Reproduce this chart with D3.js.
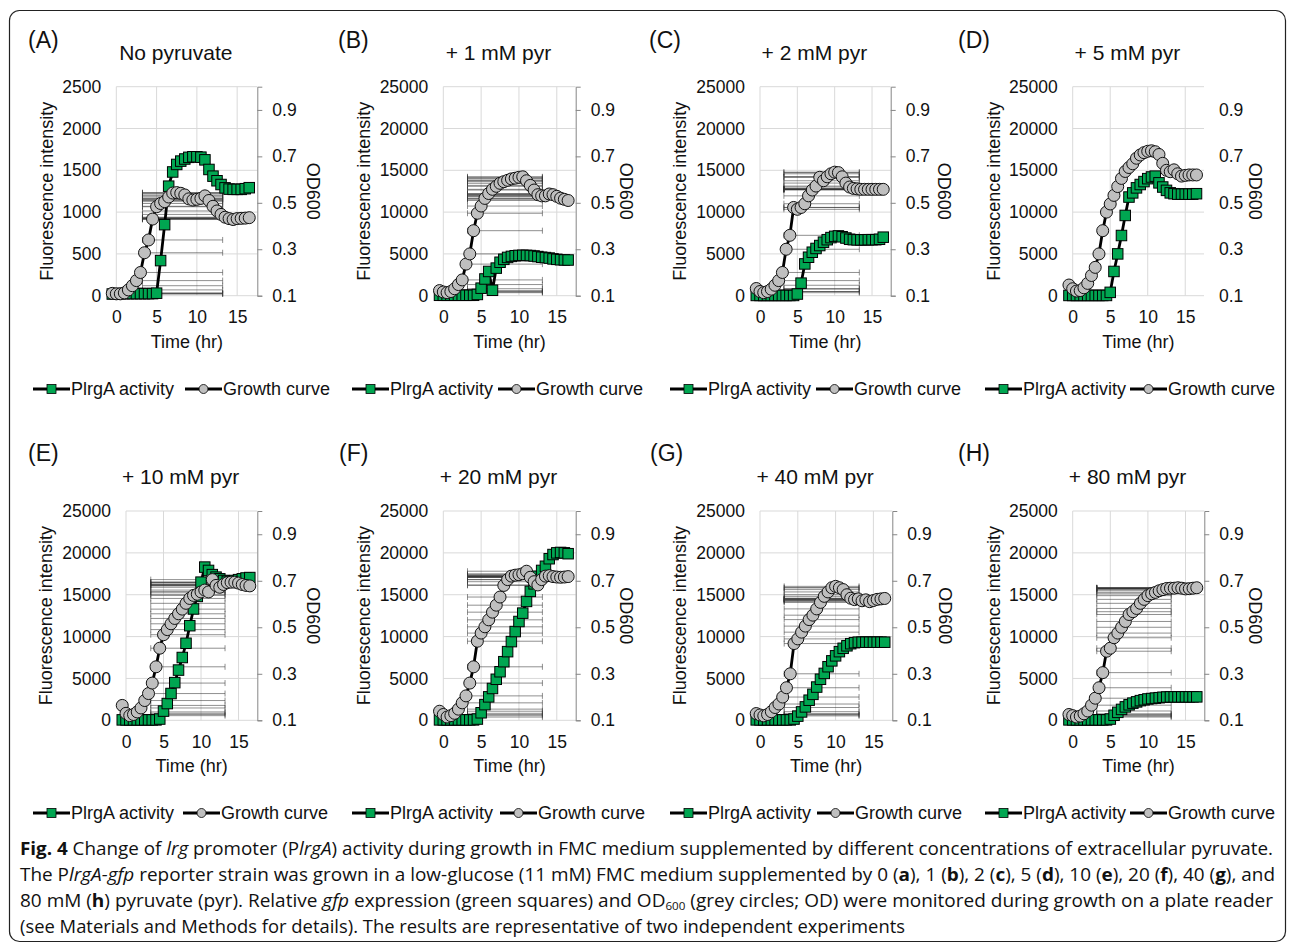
<!DOCTYPE html>
<html><head><meta charset="utf-8">
<script src="https://cdn.jsdelivr.net/npm/d3@7"></script>
<style>
body{margin:0;background:#fff}
svg{display:block}
text{font-family:"Liberation Sans",Arial,sans-serif;fill:#111}
</style>
</head><body><svg id="c" width="1293" height="947"></svg>
<script>
// ---------------- DATA ----------------
const time = [-0.5,0,0.5,1,1.5,2,2.5,3,3.5,4,4.5,5,5.5,6,6.5,7,7.5,8,8.5,9,9.5,10,10.5,11,11.5,12,12.5,13,13.5,14,14.5,15,15.5,16,16.5];
const panelLetters = ["(A)","(B)","(C)","(D)","(E)","(F)","(G)","(H)"];
const panelTitles = ["No pyruvate","+ 1 mM pyr","+ 2 mM pyr","+ 5 mM pyr","+ 10 mM pyr","+ 20 mM pyr","+ 40 mM pyr","+ 80 mM pyr"];
const fluoMax = [2500,25000,25000,25000,25000,25000,25000,25000];
const fluoStep = [500,5000,5000,5000,5000,5000,5000,5000];
const odTicks = [0.1,0.3,0.5,0.7,0.9];
const timeTicks = [0,5,10,15];
const seriesNames = ["PlrgA activity","Growth curve"];
const yTitle = "Fluorescence intensity", y2Title = "OD600", xTitle = "Time (hr)";

const fluoA = [20,25,25,25,25,25,25,25,25,25,25,30,420,850,1310,1480,1570,1610,1635,1655,1662,1662,1657,1625,1510,1430,1375,1330,1290,1275,1272,1272,1272,1280,1292];
const odA   = [0.110,0.108,0.108,0.112,0.125,0.143,0.165,0.200,0.285,0.340,0.430,0.483,0.497,0.505,0.525,0.542,0.544,0.541,0.534,0.517,0.512,0.515,0.519,0.530,0.510,0.485,0.465,0.450,0.438,0.432,0.428,0.432,0.433,0.434,0.436];
const fluoB = [50,50,50,50,50,50,50,50,50,50,150,900,2000,2900,650,3300,4000,4350,4580,4700,4780,4820,4830,4820,4800,4750,4680,4600,4560,4500,4400,4350,4300,4280,4270];
const odB   = [0.122,0.116,0.113,0.118,0.130,0.148,0.168,0.236,0.280,0.380,0.455,0.486,0.519,0.540,0.558,0.571,0.584,0.591,0.597,0.603,0.606,0.610,0.612,0.595,0.575,0.555,0.535,0.530,0.530,0.538,0.535,0.528,0.520,0.515,0.510];
const fluoC = [30,30,30,30,30,30,30,30,30,30,30,200,1500,3800,4600,5200,5650,6000,6400,6700,6950,7100,7150,7050,6900,6750,6700,6680,6680,6680,6700,6700,6700,6750,7000];
const odC   = [0.131,0.118,0.113,0.118,0.128,0.145,0.165,0.200,0.300,0.360,0.480,0.472,0.480,0.496,0.530,0.555,0.572,0.610,0.595,0.612,0.625,0.632,0.630,0.612,0.585,0.568,0.562,0.560,0.558,0.558,0.558,0.558,0.558,0.558,0.558];
const fluoD = [30,30,30,30,30,30,30,30,30,30,30,400,2900,5000,7200,9600,11800,12300,12900,13300,13650,14000,14200,14300,13500,13000,12600,12300,12200,12150,12150,12150,12150,12150,12200];
const odD   = [0.146,0.130,0.120,0.122,0.134,0.153,0.187,0.222,0.280,0.380,0.460,0.495,0.532,0.570,0.605,0.635,0.652,0.668,0.692,0.706,0.716,0.722,0.724,0.720,0.708,0.670,0.640,0.634,0.642,0.625,0.615,0.618,0.620,0.620,0.620];
const fluoE = [50,50,50,50,50,50,50,50,50,50,150,1100,2000,3200,4500,6000,7500,9200,11300,13300,14800,16500,18300,17900,17400,17100,16900,16700,16600,16600,16700,16800,16900,17000,17050];
const odE   = [0.164,0.130,0.120,0.125,0.136,0.153,0.185,0.215,0.260,0.330,0.410,0.468,0.490,0.515,0.538,0.558,0.578,0.603,0.624,0.637,0.642,0.652,0.660,0.652,0.705,0.680,0.672,0.684,0.692,0.694,0.694,0.690,0.684,0.680,0.678];
const fluoF = [50,50,50,50,50,50,50,50,50,50,150,900,1870,2800,3800,4900,5800,7000,8200,9400,10600,11800,12800,14200,15400,16300,17200,17900,18400,19300,19800,20000,20050,20000,19900];
const odF   = [0.139,0.125,0.114,0.120,0.130,0.148,0.175,0.205,0.260,0.330,0.440,0.475,0.502,0.532,0.565,0.595,0.630,0.680,0.705,0.720,0.724,0.726,0.730,0.741,0.715,0.696,0.682,0.705,0.720,0.722,0.718,0.716,0.715,0.716,0.718];
const fluoG = [50,50,50,50,50,50,50,50,50,50,150,500,1000,1600,2400,3100,3970,4900,5600,6400,7100,7700,8200,8600,8900,9150,9270,9330,9330,9330,9330,9330,9330,9330,9330];
const odG   = [0.129,0.123,0.119,0.125,0.137,0.155,0.170,0.200,0.240,0.300,0.430,0.450,0.479,0.505,0.533,0.552,0.579,0.607,0.633,0.652,0.670,0.676,0.670,0.662,0.640,0.625,0.619,0.622,0.614,0.618,0.610,0.615,0.620,0.622,0.624];
const fluoH = [50,50,50,50,50,50,50,50,50,50,50,150,600,950,1300,1600,1850,2050,2200,2350,2450,2550,2600,2650,2700,2750,2780,2800,2800,2800,2800,2800,2800,2800,2800];
const odH   = [0.125,0.120,0.114,0.118,0.128,0.140,0.165,0.195,0.240,0.305,0.397,0.410,0.455,0.475,0.500,0.525,0.555,0.567,0.581,0.603,0.620,0.636,0.644,0.650,0.657,0.662,0.667,0.668,0.668,0.670,0.668,0.665,0.666,0.668,0.670];

// horizontal (SD) error-bar extent on time axis, per panel (null = none)
const errLow  = [3.25,3.2,3.2,null,3.3,3.2,3.2,3.2];
const errHigh = [13.2,13.1,13.3,null,13.2,13.1,13.1,13.1];
const showRightAxisLine = [true,true,true,false,true,true,true,true];

const fluoSeries = [fluoA,fluoB,fluoC,fluoD,fluoE,fluoF,fluoG,fluoH];
const odSeries = [odA,odB,odC,odD,odE,odF,odG,odH];

// ---------------- LAYOUT ----------------
const svg = d3.select("#c");
svg.append("rect").attr("x",9.5).attr("y",10.5).attr("width",1276).attr("height",931)
  .attr("rx",10).attr("fill","none").attr("stroke","#222").attr("stroke-width",1.2);

const plotLeft  = [116.3,443.3,760,1072.7,126,443.3,760,1072.7];
const plotRight = [257.3,575.7,890.7,1204,257.3,575.7,892.3,1204.3];
const rowTop = [86.7,511], rowBottom = [295.7,720.3];
const letterX = [28,338,649,958,28,339,650,958];
const letterY = [48,461];
const titleY = [60,484];
const legendY = [389,813];
const legendX1 = [33,352,670,985,33,352,670,985];
const legendX2 = [185,498,816,1130,183,500,817,1130];
const yTitleOff = [70,80,80,79,80,80,80,79];
const y2TitleOff = [56,51,54,51,56,51,53,51];

const GREEN = "#00a651", GREY = "#bfbfbf", GRID = "#d9d9d9";
const FS = 17.5, FT = 18;
const FF = "Liberation Sans, Arial, sans-serif";

function drawPanel(i){
  const row = i < 4 ? 0 : 1;
  const x0 = plotLeft[i], x1 = plotRight[i], y0 = rowBottom[row], y1 = rowTop[row];
  const x = d3.scaleLinear().domain([0,17.5]).range([x0,x1]);
  const yF = d3.scaleLinear().domain([0,fluoMax[i]]).range([y0,y1]);
  const yO = d3.scaleLinear().domain([0.1,1.0]).range([y0,y1]);
  const fTicks = d3.range(0, fluoMax[i] + 1, fluoStep[i]);
  const g = svg.append("g");

  // grid
  g.selectAll(".hg").data(fTicks).join("line")
    .attr("x1",x0).attr("x2",x1).attr("y1",d=>yF(d)).attr("y2",d=>yF(d))
    .attr("stroke",GRID).attr("stroke-width",1);
  g.selectAll(".vg").data(timeTicks).join("line")
    .attr("x1",d=>x(d)).attr("x2",d=>x(d)).attr("y1",y0).attr("y2",y1)
    .attr("stroke",GRID).attr("stroke-width",1);

  const styleText = sel => sel.attr("font-size",FS).attr("font-family",FF).attr("fill","#111");
  // left axis labels
  const axL = g.append("g").attr("transform",`translate(${x0},0)`)
    .call(d3.axisLeft(yF).tickValues(fTicks).tickSize(0).tickPadding(15).tickFormat(d3.format("d")));
  axL.select(".domain").remove();
  styleText(axL.selectAll("text"));

  // bottom axis labels
  const axB = g.append("g").attr("transform",`translate(0,${y0})`)
    .call(d3.axisBottom(x).tickValues(timeTicks).tickSize(0).tickPadding(15).tickFormat(d3.format("d")));
  axB.select(".domain").remove();
  styleText(axB.selectAll("text"));

  // right axis
  const axR = g.append("g").attr("transform",`translate(${x1},0)`)
    .call(d3.axisRight(yO).tickValues(odTicks).tickSizeOuter(0)
      .tickSize(showRightAxisLine[i] ? 5 : 0).tickPadding(showRightAxisLine[i] ? 10 : 15)
      .tickFormat(d3.format(".1f")));
  if (showRightAxisLine[i]) {
    axR.select(".domain").attr("stroke","#868686").attr("stroke-width",1);
    axR.selectAll(".tick line").attr("stroke","#868686");
  } else {
    axR.select(".domain").remove();
  }
  styleText(axR.selectAll("text"));

  // axis titles
  g.append("text").attr("transform",`translate(${x0-yTitleOff[i]},${(y0+y1)/2}) rotate(-90)`)
    .attr("text-anchor","middle").attr("dy","0.35em").attr("font-size",FT).text(yTitle);
  g.append("text").attr("transform",`translate(${x1+y2TitleOff[i]},${(y0+y1)/2}) rotate(90)`)
    .attr("text-anchor","middle").attr("dy","0.35em").attr("font-size",FT).text(y2Title);
  g.append("text").attr("x",(x0+x1)/2).attr("y",y0+52).attr("text-anchor","middle")
    .attr("font-size",FT).text(xTitle);

  // panel letter & title
  g.append("text").attr("x",letterX[i]).attr("y",letterY[row]).attr("font-size",23).text(panelLetters[i]);
  g.append("text").attr("x",(x0+x1)/2 - 11).attr("y",titleY[row]).attr("text-anchor","middle")
    .attr("font-size",21).text(panelTitles[i]);

  const fl = fluoSeries[i], od = odSeries[i];
  // error bars (horizontal, growth-curve series)
  if (errLow[i] !== null) {
    const eb = g.append("g").attr("stroke","#333").attr("stroke-width",0.55);
    const ex0 = x(errLow[i]), ex1 = x(errHigh[i]);
    eb.selectAll(".eh").data(od).join("line")
      .attr("x1",ex0).attr("x2",ex1).attr("y1",d=>yO(d)).attr("y2",d=>yO(d));
    eb.selectAll(".ecl").data(od).join("line")
      .attr("x1",ex0).attr("x2",ex0).attr("y1",d=>yO(d)-3).attr("y2",d=>yO(d)+3);
    eb.selectAll(".ecr").data(od).join("line")
      .attr("x1",ex1).attr("x2",ex1).attr("y1",d=>yO(d)-3).attr("y2",d=>yO(d)+3);
  }
  // lines
  const lineF = d3.line().x((d,k)=>x(time[k])).y(d=>yF(d));
  const lineO = d3.line().x((d,k)=>x(time[k])).y(d=>yO(d));
  g.append("path").attr("d",lineF(fl)).attr("fill","none").attr("stroke","#000").attr("stroke-width",2.8).attr("stroke-linejoin","round");
  g.append("path").attr("d",lineO(od)).attr("fill","none").attr("stroke","#000").attr("stroke-width",2.8).attr("stroke-linejoin","round");
  // markers
  const S = 10.5;
  g.selectAll(".sq").data(fl).join("rect")
    .attr("x",(d,k)=>x(time[k])-S/2).attr("y",d=>yF(d)-S/2).attr("width",S).attr("height",S)
    .attr("fill",GREEN).attr("stroke","#000").attr("stroke-width",1);
  g.selectAll(".ci").data(od).join("circle")
    .attr("cx",(d,k)=>x(time[k])).attr("cy",d=>yO(d)).attr("r",6)
    .attr("fill",GREY).attr("stroke","#111").attr("stroke-width",1);

  // legend
  const ly = legendY[row];
  const lg = g.append("g");
  [legendX1[i], legendX2[i]].forEach((lx, s) => {
    lg.append("line").attr("x1",lx).attr("x2",lx+37).attr("y1",ly).attr("y2",ly).attr("stroke","#000").attr("stroke-width",3);
    if (s === 0) lg.append("rect").attr("x",lx+14).attr("y",ly-4.5).attr("width",9).attr("height",9).attr("fill",GREEN).attr("stroke","#000").attr("stroke-width",0.8);
    else lg.append("circle").attr("cx",lx+18.5).attr("cy",ly).attr("r",4.5).attr("fill",GREY).attr("stroke","#000").attr("stroke-width",0.8);
    lg.append("text").attr("x",lx+38).attr("y",ly).attr("dy","0.35em").attr("font-size",FT).text(seriesNames[s]);
  });
}
for (let i = 0; i < 8; i++) drawPanel(i);

// ---------------- CAPTION ----------------
const capFont = "'Liberation Sans Narrow','Open Sans',sans-serif";
const captionLines = [
  [["b","Fig. 4"],["n"," Change of "],["i","lrg"],["n"," promoter (P"],["i","lrgA"],["n",") activity during growth in FMC medium supplemented by different concentrations of extracellular pyruvate."]],
  [["n","The P"],["i","lrgA-gfp"],["n"," reporter strain was grown in a low-glucose (11 mM) FMC medium supplemented by 0 ("],["b","a"],["n","), 1 ("],["b","b"],["n","), 2 ("],["b","c"],["n","), 5 ("],["b","d"],["n","), 10 ("],["b","e"],["n","), 20 ("],["b","f"],["n","), 40 ("],["b","g"],["n","), and"]],
  [["n","80 mM ("],["b","h"],["n",") pyruvate (pyr). Relative "],["i","gfp"],["n"," expression (green squares) and OD"],["s","600"],["n"," (grey circles; OD) were monitored during growth on a plate reader"]],
  [["n","(see Materials and Methods for details). The results are representative of two independent experiments"]]
];
const capWidths = [1253,1255,1253,885];
const capBase = [855,881,907,933];
captionLines.forEach((parts,li) => {
  const t = svg.append("text").attr("x",20).attr("y",capBase[li]).attr("font-size",18)
    .attr("font-family",capFont).style("font-family",capFont).attr("fill","#231f20")
    .attr("textLength",capWidths[li]).attr("lengthAdjust","spacingAndGlyphs");
  parts.forEach(([k,s]) => {
    const ts = t.append("tspan").text(s);
    if (k === "b") ts.attr("font-weight","bold");
    if (k === "i") ts.attr("font-style","italic");
    if (k === "s") ts.attr("font-size",11).attr("dy",3);
    if (k === "n" && s.startsWith(" (grey")) ts.attr("dy",-3);
  });
});
</script>
</body></html>
